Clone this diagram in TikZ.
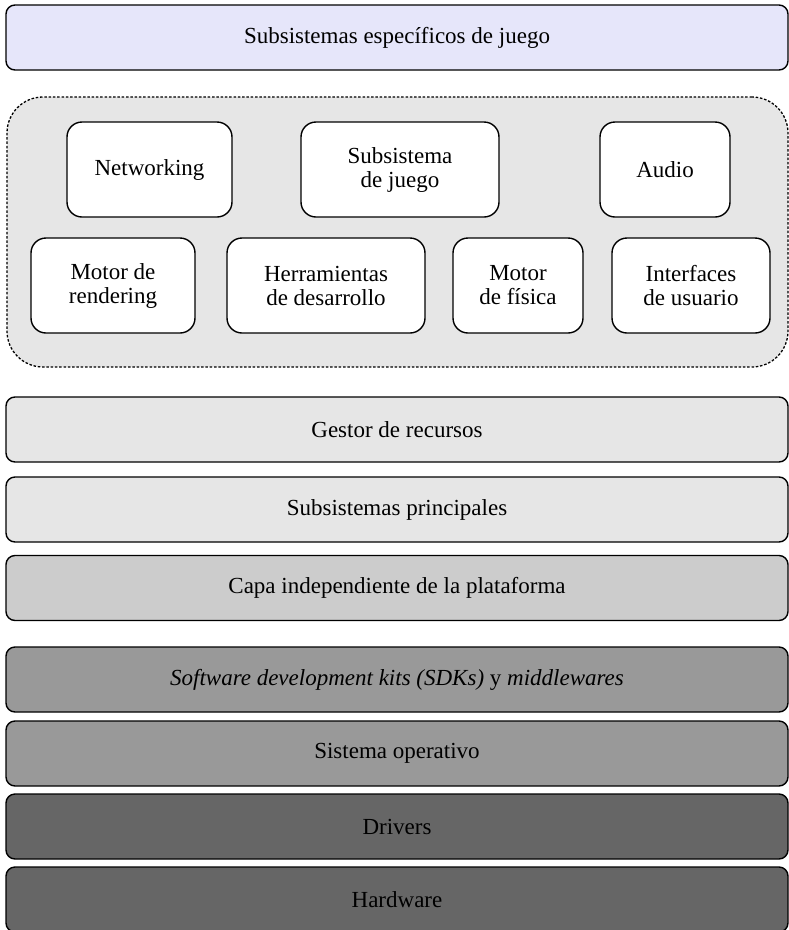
\documentclass[tikz,border=0pt]{standalone}
\usepackage{fontspec}
\setmainfont{Liberation Serif}
\usetikzlibrary{positioning}
\definecolor{lav}{HTML}{E6E6FA}
\definecolor{lgray}{HTML}{E6E6E6}
\definecolor{mgray}{HTML}{CCCCCC}
\definecolor{dgray}{HTML}{999999}
\definecolor{ddgray}{HTML}{666666}
\begin{document}
\begin{tikzpicture}[x=1pt,y=-1pt,
  txt/.style={font=\fontsize{23}{24}\selectfont, align=center, text=black},
  layer/.style={txt, draw=black, line width=1.4pt, rounded corners=9pt, minimum width=782pt, minimum height=65pt, inner sep=0pt},
  comp/.style={txt, draw=black, line width=1.4pt, rounded corners=15pt, fill=white, minimum height=95pt, inner sep=0pt},
  region/.style={draw=black, line width=1.3pt, dash pattern=on 2.5pt off 1.8pt, rounded corners=36pt, fill=lgray, minimum width=781pt, minimum height=270pt, inner sep=0pt}
]
\useasboundingbox (0,0) rectangle (789,930);
\node[layer, fill=lav] (top) at (397,37.5) {Subsistemas específicos de juego};
\node[region] (reg) at (397.5,232) {};
\node[comp, minimum width=165pt] (net) at (149.5,169.5) {Networking};
\node[comp, minimum width=198pt] (sub) at (400,169.5) {Subsistema\\de juego};
\node[comp, minimum width=130pt] (aud) at (665,169.5) {Audio};
\node[comp, minimum width=164pt] (ren) at (113,285.5) {Motor de\\rendering};
\node[comp, minimum width=198pt] (her) at (326,285.5) {Herramientas\\de desarrollo};
\node[comp, minimum width=130pt] (fis) at (518,285.5) {Motor\\de física};
\node[comp, minimum width=158pt] (int) at (691,285.5) {Interfaces\\de usuario};
\node[layer, fill=lgray] (ges) at (397,429.5) {Gestor de recursos};
\node[layer, fill=lgray] (pri) at (397,509.5) {Subsistemas principales};
\node[layer, fill=mgray] (cap) at (397,588) {Capa independiente de la plataforma};
\node[layer, fill=dgray] (sdk) at (397,679.5) {\textit{Software development kits (SDKs)} y \textit{middlewares}};
\node[layer, fill=dgray] (so) at (397,753.5) {Sistema operativo};
\node[layer, fill=ddgray] (drv) at (397,826.5) {Drivers};
\node[layer, fill=ddgray] (hw) at (397,899.5) {Hardware};
\end{tikzpicture}
\end{document}
